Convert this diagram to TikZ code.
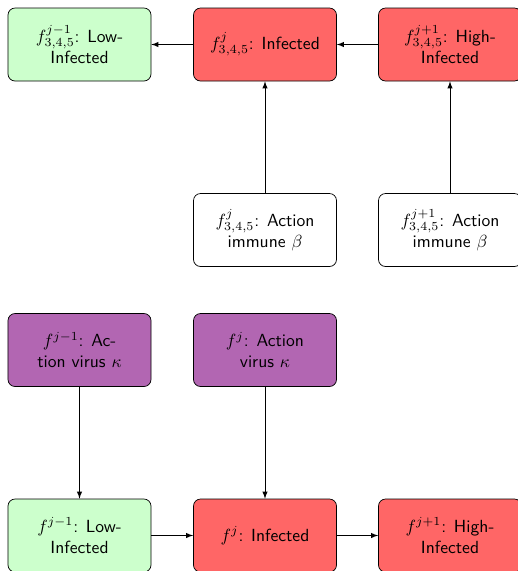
\documentclass[tikz,border=0pt]{standalone}
\usetikzlibrary{arrows,calc}
\definecolor{LowClr}{rgb}{0.8,1,0.8}
\definecolor{InfClr}{rgb}{1,0.4,0.4}
\definecolor{VirClr}{rgb}{0.7,0.4,0.7}

\begin{document}
\begin{tikzpicture}[>=latex,
  box/.style={draw=black,rounded corners=4pt,minimum width=2.86cm,
    minimum height=1.46cm,align=center,font=\sffamily},
  low/.style={box,fill=LowClr},
  inf/.style={box,fill=InfClr},
  vir/.style={box,fill=VirClr},
  imm/.style={box,fill=white}]

\useasboundingbox (0,0) rectangle (10.36,-11.42);

% upper part
\node[low] (lowA) at (1.59,-0.89) {$f^{j-1}_{3,4,5}$: Low-\\Infected};
\node[inf] (infA) at (5.30,-0.89) {$f^{j}_{3,4,5}$: Infected};
\node[inf] (highA) at (9.00,-0.89) {$f^{j+1}_{3,4,5}$: High-\\Infected};

\node[imm] (immA) at (5.30,-4.60) {$f^{j}_{3,4,5}$: Action\\immune $\beta$};
\node[imm] (immB) at (9.00,-4.60) {$f^{j+1}_{3,4,5}$: Action\\immune $\beta$};

% lower part
\node[vir] (virA) at (1.59,-7.00) {$f^{j-1}$: Ac-\\tion virus $\kappa$};
\node[vir] (virB) at (5.30,-7.00) {$f^{j}$: Action\\virus $\kappa$};

\node[low] (lowB) at (1.59,-10.71) {$f^{j-1}$: Low-\\Infected};
\node[inf] (infB) at (5.30,-10.71) {$f^{j}$: Infected};
\node[inf] (highB) at (9.00,-10.71) {$f^{j+1}$: High-\\Infected};

\draw[->] (infA) -- (lowA);
\draw[->] (highA) -- (infA);
\draw[->] (immA) -- (infA);
\draw[->] (immB) -- (highA);

\draw[->] (virA) -- (lowB);
\draw[->] (virB) -- (infB);
\draw[->] (lowB) -- (infB);
\draw[->] (infB) -- (highB);

\end{tikzpicture}
\end{document}
